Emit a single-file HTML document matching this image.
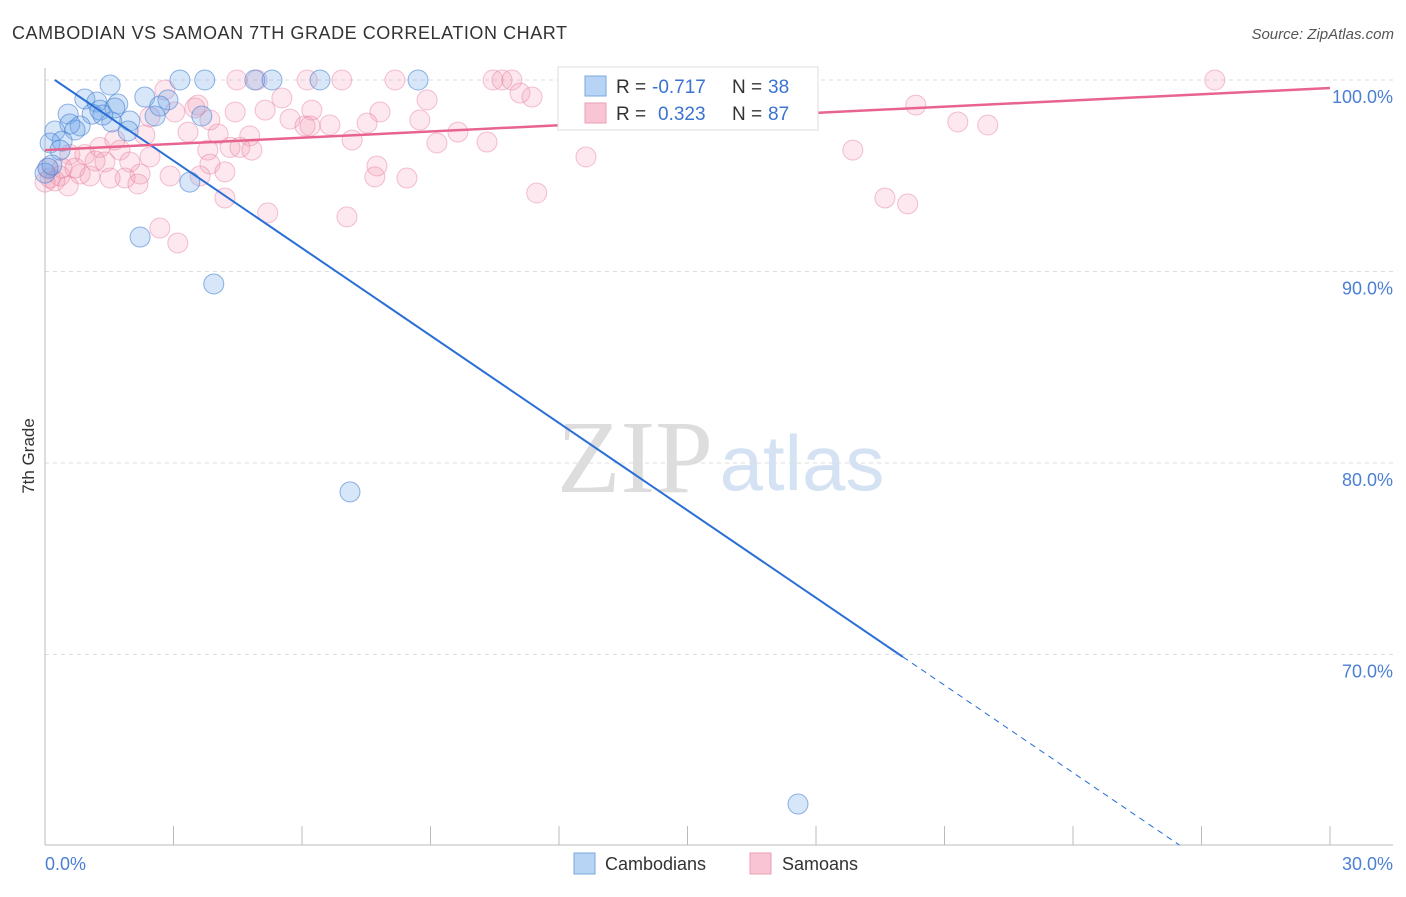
<!DOCTYPE html>
<html><head><meta charset="utf-8"><style>
body{margin:0;background:#fff;font-family:"Liberation Sans",sans-serif}
</style></head><body>
<svg width="1406" height="892" xmlns="http://www.w3.org/2000/svg" id="chart">
<text x="12" y="39" font-size="18" fill="#333" textLength="555">CAMBODIAN VS SAMOAN 7TH GRADE CORRELATION CHART</text>
<text x="1394" y="39" font-size="15" fill="#555" font-style="italic" text-anchor="end">Source: ZipAtlas.com</text>
<text x="34" y="456" font-size="17" fill="#333" transform="rotate(-90 34 456)" text-anchor="middle">7th Grade</text>
<g><text x="635" y="492" font-size="104" fill="#ddd" font-family="Liberation Serif,serif" text-anchor="middle">ZIP</text><text x="802" y="490" font-size="78" fill="#d4e2f4" text-anchor="middle">atlas</text></g>
<g id="grid"></g><g id="axes"></g><g id="pts"></g><g id="lines"></g>
<g>
<rect x="558" y="67" width="260" height="63" fill="#fff" stroke="#ddd"/>
<rect x="585" y="76" width="21" height="20" fill="#b8d4f4" stroke="#7aa7e0"/>
<rect x="585" y="103" width="21" height="20" fill="#f9c4d3" stroke="#eba0b6"/>
<text y="93" font-size="19" fill="#333"><tspan x="616">R =</tspan><tspan x="652" fill="#3a73d0">-0.717</tspan><tspan x="732">N =</tspan><tspan x="768" fill="#3a73d0">38</tspan></text>
<text y="120" font-size="19" fill="#333"><tspan x="616">R =</tspan><tspan x="658" fill="#3a73d0">0.323</tspan><tspan x="732">N =</tspan><tspan x="768" fill="#3a73d0">87</tspan></text>
</g>
<g>
<rect x="574" y="853" width="21" height="21" fill="#b8d4f4" stroke="#7aa7e0"/>
<text x="605" y="870" font-size="18" fill="#333">Cambodians</text>
<rect x="750" y="853" width="21" height="21" fill="#f9c4d3" stroke="#eba0b6"/>
<text x="782" y="870" font-size="18" fill="#333">Samoans</text>
</g>
</svg>
<script>
const yTicks=[100,90,80,70];
const xTickLabels=["0.0%","30.0%"];
const blueX=[1.52,3.15,3.73,4.9,5.3,6.42,8.71,2.33,2.87,0.93,1.21,1.7,2.68,0.54,1.1,1.28,3.66,1.98,0.82,0.58,1.56,0.23,1.94,0.7,0.4,0.12,0.07,3.38,2.22,3.94,7.12,17.58,2.57,0,0.35,0.16,1.63,1.35];
const blueY=[99.74,100,100,100,100,100,100,99.11,98.96,99.01,98.85,98.75,98.64,98.22,98.22,98.43,98.12,97.86,97.6,97.7,97.81,97.34,97.34,97.39,96.81,96.71,95.4,94.67,91.8,89.35,78.49,62.19,98.12,95.14,96.34,95.56,98.54,98.17];
const pinkX=[4.48,4.95,6.12,6.93,8.17,10.46,10.67,10.9,12.33,14.01,27.31,17.63,2.8,3.57,5.53,5.14,4.44,6.23,7.82,8.92,11.09,11.37,20.33,21.31,22.01,2.45,3.03,3.85,5.72,6.65,7.52,6.07,8.75,9.64,3.34,4.78,7.17,9.15,10.32,4.32,3.8,4.55,4.83,2.45,1.75,1.28,0.93,0.58,1.4,1.98,3.85,4.2,7.75,7.7,8.45,12.63,18.86,2.22,2.92,1.87,1.52,0.82,0.35,0.12,0.23,0.54,2.17,1.05,4.2,5.2,7.05,11.48,19.61,20.14,2.68,3.1,0.07,0.4,0,4.04,3.5,1.17,1.63,2.33,3.62,0.7,6.19];
const pinkY=[100,100,100,100,100,100,100,100,100,100,100,98.96,99.48,98.69,99.06,98.43,98.33,98.43,98.33,98.96,99.32,99.11,98.69,97.81,97.65,98.07,98.33,97.91,97.96,97.65,97.75,97.6,97.91,97.28,97.28,97.08,96.87,96.71,96.76,96.48,96.34,96.48,96.34,95.98,96.34,96.48,96.11,96.11,95.72,95.72,95.61,95.2,95.51,94.94,94.88,95.98,96.34,95.09,94.99,94.88,94.88,95.09,94.99,94.88,94.73,94.47,94.57,94.99,93.84,93.06,92.85,94.1,93.84,93.53,92.27,91.49,95.4,95.4,94.67,97.18,98.54,95.77,96.87,97.13,94.99,95.4,97.6];
const blueLine=[100.35,54.7], pinkLine=[96.34,99.58];
const NS="http://www.w3.org/2000/svg";
const X=v=>45+v/30*1285, Y=v=>80+(100-v)*19.15;
function mk(tag,attrs,parent){const e=document.createElementNS(NS,tag);for(const k in attrs)e.setAttribute(k,attrs[k]);parent.appendChild(e);return e;}
const grid=document.getElementById('grid'),axes=document.getElementById('axes'),pts=document.getElementById('pts'),lines=document.getElementById('lines');
yTicks.forEach(t=>{const l=mk('line',{x1:45,x2:1393,y1:Y(t),y2:Y(t),stroke:'#ddd','stroke-dasharray':'4,4'},grid);


const tx=mk('text',{x:1393,y:Y(t)+23,'font-size':18,fill:'#4a7fd4','text-anchor':'end'},grid);tx.textContent=t.toFixed(1)+'%';

});
mk('line',{x1:45,x2:45,y1:68,y2:845,stroke:'#bbb'},axes);
mk('line',{x1:45,x2:1393,y1:845,y2:845,stroke:'#bbb'},axes);
for(let i=0;i<=10;i++){const t=mk('line',{x1:X(i*3),x2:X(i*3),y1:826,y2:845,stroke:'#bbb'},axes);

}
xTickLabels.forEach((s,i)=>{const t=mk('text',{x:i?1393:45,y:870,'font-size':18,fill:'#4a7fd4','text-anchor':i?'end':'start'},axes);t.textContent=s;

});
pinkX.forEach((x,i)=>{const c=mk('circle',{cx:X(x),cy:Y(pinkY[i]),r:10,fill:'rgba(243,150,178,0.22)',stroke:'rgba(230,120,155,0.45)'},pts);

});
blueX.forEach((x,i)=>{const c=mk('circle',{cx:X(x),cy:Y(blueY[i]),r:10,fill:'rgba(110,165,232,0.28)',stroke:'rgba(70,130,210,0.6)'},pts);

});
const by=x=>blueLine[0]+(blueLine[1]-blueLine[0])*x/30;
let l1=mk('line',{x1:X(0.23),y1:Y(by(0.23)),x2:X(20.03),y2:Y(by(20.03)),stroke:'#2a6fd6','stroke-width':2},lines);


const xe=(60.05-blueLine[0])/(blueLine[1]-blueLine[0])*30;
let l2=mk('line',{x1:X(20.03),y1:Y(by(20.03)),x2:X(xe),y2:Y(by(xe)),stroke:'#2a6fd6','stroke-width':1,'stroke-dasharray':'6,5'},lines);


let l3=mk('line',{x1:X(0),y1:Y(pinkLine[0]),x2:X(30),y2:Y(pinkLine[1]),stroke:'#e8648e','stroke-width':2.5},lines);


</script>
</body></html>
